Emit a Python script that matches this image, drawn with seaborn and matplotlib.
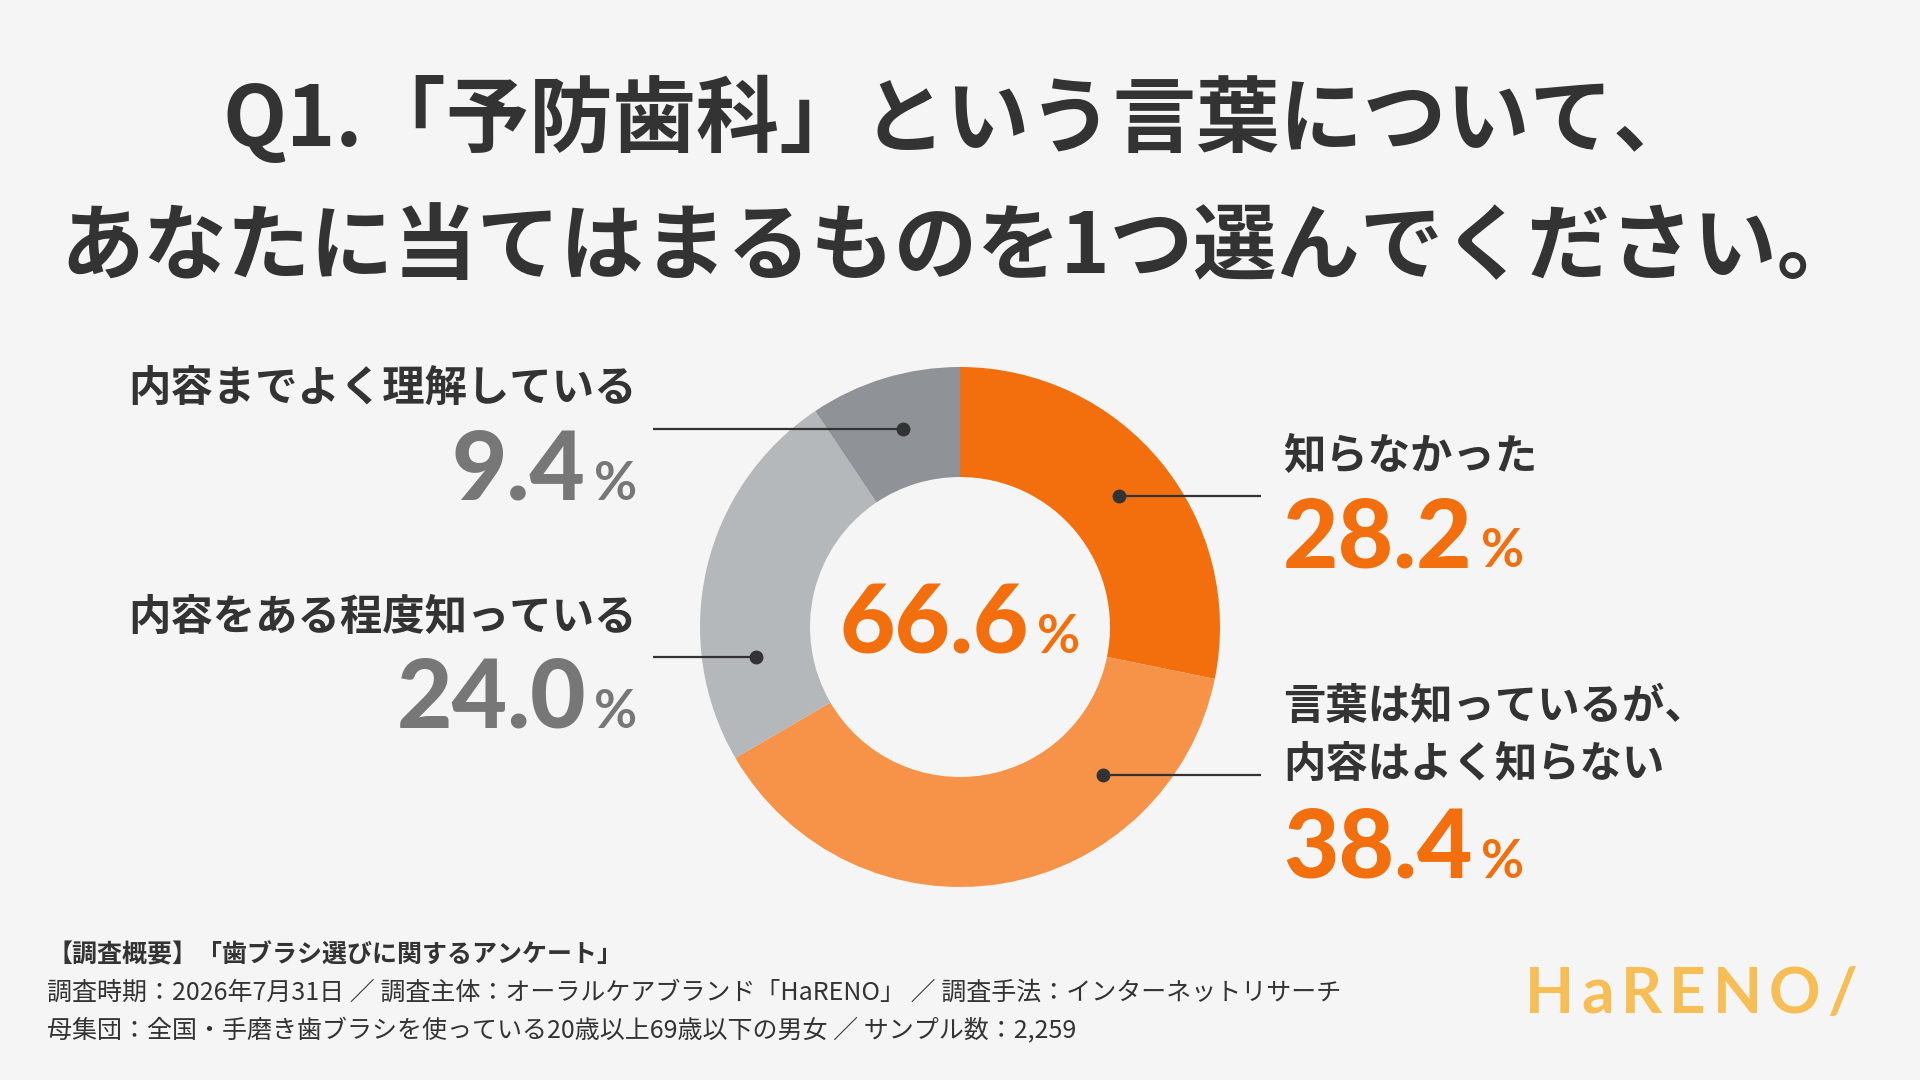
import numpy as np
import seaborn as sns
import matplotlib.pyplot as plt

# data
categories = ["知らなかった", "言葉は知っているが、\n内容はよく知らない",
              "内容をある程度知っている", "内容までよく理解している"]
shares = [28.2, 38.4, 24.0, 9.4]
palette = ["#F36F0E", "#F79349", "#B5B8BB", "#8F9397"]
number_colors = ["#F36F0E", "#F36F0E", "#777777", "#777777"]

title_lines = ["Q1.「予防歯科」という言葉について、",
               "あなたに当てはまるものを1つ選んでください。"]
footer_lines = ["【調査概要】「歯ブラシ選びに関するアンケート」",
                "調査時期：2026年7月31日 ／ 調査主体：オーラルケアブランド「HaRENO」 ／ 調査手法：インターネットリサーチ",
                "母集団：全国・手磨き歯ブラシを使っている20歳以上69歳以下の男女 ／ サンプル数：2,259"]
logo = "HaRENO/"

# layout in pixels, y measured from the top
W, H = 1920, 1080
CX, CY, R_OUT, R_IN = 960, 627, 260, 150
sides = ["right", "right", "left", "left"]
label_y = [457, 707, 618, 389]
num_base = [567, 878, 728, 500]
lead_y = [496, 775, 657, 429]
RIGHT_X, LEFT_X = 1283, 637
LINE_END = {"right": 1261, "left": 653}

BG = "#F5F5F5"
DARK = "#333333"
JP = ["Noto Sans CJK JP", "DejaVu Sans"]
NUM = ["Lato", "Noto Sans CJK JP", "DejaVu Sans"]

sns.set_theme(style="white")
plt.rcParams['font.family'] = JP

fig = plt.figure(figsize=(W / 100, H / 100), dpi=100, facecolor=BG)

# donut
pa = fig.add_axes([(CX - R_OUT) / W, (H - CY - R_OUT) / H, 2 * R_OUT / W, 2 * R_OUT / H])
pa.pie(shares, colors=palette, startangle=90, counterclock=False, radius=1,
       wedgeprops=dict(width=(R_OUT - R_IN) / R_OUT, edgecolor="none", linewidth=0))
pa.set_xlim(-1, 1)
pa.set_ylim(-1, 1)
pa.set_aspect("equal")
pa.axis("off")

# overlay in pixel coordinates
ov = fig.add_axes([0, 0, 1, 1])
ov.set_xlim(0, W)
ov.set_ylim(H, 0)
ov.axis("off")
ov.patch.set_alpha(0)
renderer = fig.canvas.get_renderer()


def width_of(t):
    return t.get_window_extent(renderer=renderer).width


def draw_value(x, base, value, color, align):
    # number in big type, "%" in small type on the same baseline
    num_kw = dict(fontsize=69, fontweight="black", color=color, family=NUM, va="baseline")
    pct_kw = dict(fontsize=38, fontweight="bold", color=color, family=NUM, va="baseline")
    gap = 8
    if align == "left":
        n = ov.text(x, base, value, ha="left", **num_kw)
        ov.text(x + width_of(n) + gap, base, "%", ha="left", **pct_kw)
    elif align == "right":
        p = ov.text(x, base, "%", ha="right", **pct_kw)
        ov.text(x - width_of(p) - gap, base, value, ha="right", **num_kw)
    else:
        n = ov.text(0, base, value, ha="left", **num_kw)
        p = ov.text(0, base, "%", ha="left", **pct_kw)
        total = width_of(n) + gap + width_of(p)
        n.set_x(x - total / 2)
        p.set_x(x - total / 2 + width_of(n) + gap)


r_mid = (R_OUT + R_IN) / 2 + 1
for cat, val, col, side, ly, nb, yy in zip(categories, shares, number_colors,
                                             sides, label_y, num_base, lead_y):
    dx = np.sqrt(r_mid ** 2 - (CY - yy) ** 2)
    dot_x = CX + dx if side == "right" else CX - dx
    ov.plot([dot_x, LINE_END[side]], [yy, yy], color=DARK, lw=1.6, solid_capstyle="butt")
    ov.plot([dot_x], [yy], "o", color=DARK, ms=9)
    tx = RIGHT_X if side == "right" else LEFT_X
    ha = "left" if side == "right" else "right"
    for i, line in enumerate(cat.split("\n")):
        ov.text(tx, ly + i * 58, line, ha=ha, va="center", fontsize=30.5,
                fontweight="bold", color=DARK)
    draw_value(tx, nb, f"{val:.1f}", col, ha)

# share of people who do not know the content
draw_value(CX, 653, f"{shares[0] + shares[1]:.1f}", palette[0], "center")

# title
for i, line in enumerate(title_lines):
    ov.text(W / 2, 120 + i * 128, line, ha="center", va="center", fontsize=60,
            fontweight="bold", color=DARK)

# footer
for i, line in enumerate(footer_lines):
    ov.text(47, 955 + i * 38, line, ha="left", va="center", fontsize=18,
            fontweight="bold" if i == 0 else "normal", color=DARK)

# logo with letter spacing
lx = 1525
for ch in logo:
    t = ov.text(lx, 1013, ch, ha="left", va="baseline", fontsize=46, fontweight="bold",
                family=["Lato", "DejaVu Sans"], color="#F6BE55")
    lx += width_of(t) + 7

fig.savefig("out.png", dpi=100, facecolor=BG)
